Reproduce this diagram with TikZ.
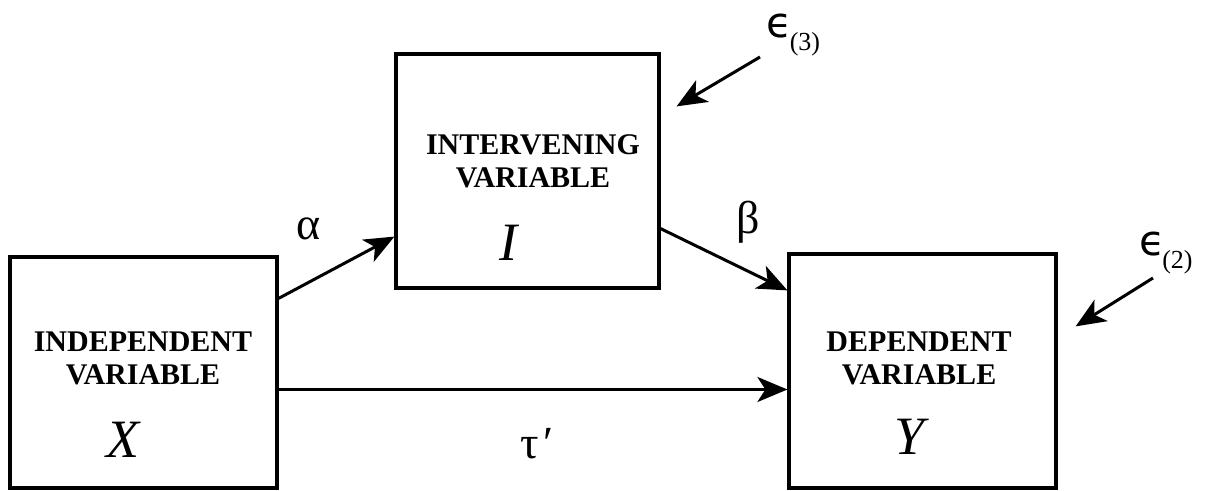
\documentclass[tikz,border=0pt]{standalone}
\usepackage{fontspec}
\setmainfont{Liberation Serif}
\newfontfamily\epsfont{DejaVu Sans}
\usetikzlibrary{arrows.meta}

\begin{document}
\begin{tikzpicture}[x=0.5pt, y=-0.5pt,
  >={Stealth[length=15pt, width=12.5pt, inset=4pt]},
  varbox/.style 2 args={draw, line width=1.6pt, minimum width=#1, minimum height=#2, inner sep=0pt},
  boxtitle/.style={font=\fontsize{15}{16.5}\selectfont\bfseries, align=center, inner sep=0pt},
  boxsym/.style={font=\fontsize{27}{30}\selectfont\itshape, inner sep=0pt},
  coef/.style={font=\fontsize{23}{25}\selectfont, inner sep=0pt},
  errlab/.style={inner sep=0pt},
  path/.style={->, line width=1.5pt}]
\useasboundingbox (0,0) rectangle (1209,491);
% boxes
\node[varbox={133.5pt}{115.5pt}] (indep) at (143.5,372.5) {};
\node[varbox={131.5pt}{117pt}] (inter) at (527.5,171) {};
\node[varbox={133.5pt}{117pt}] (dep) at (922.5,371) {};
\node[boxtitle] (indeptxt) at (143,358.5) {INDEPENDENT\\VARIABLE};
\node[boxtitle] (intertxt) at (533,161) {INTERVENING\\VARIABLE};
\node[boxtitle] (deptxt) at (919,358.5) {DEPENDENT\\VARIABLE};
\node[boxsym] (xsym) at (123,440) {X};
\node[boxsym] (isym) at (508,243) {I};
\node[boxsym] (ysym) at (910,437) {Y};
% paths
\draw[path] ([yshift=-21.5pt]indep.north east) -- ([yshift=26.5pt]inter.south west);
\draw[path] ([yshift=30.5pt]inter.south east) -- ([yshift=-19pt]dep.north west);
\coordinate (tstart) at ([yshift=-8.5pt]indep.east);
\draw[path] (tstart) -- (tstart -| dep.west);
\node[coef] (lalpha) at (308.5,229) {α};
\node[coef] (lbeta) at (748.5,222) {β};
\node[coef] (ltau) at (537,443.5) {τ\kern2pt′};
% error terms
\node[errlab] (eps3) at (793.5,35) {{\epsfont\fontsize{21}{23}\selectfont ϵ}\kern-1.5pt\raisebox{-6.5pt}{\fontsize{13}{14}\selectfont(3)}};
\node[errlab] (eps2) at (1166,253.5) {{\epsfont\fontsize{21}{23}\selectfont ϵ}\kern-1.5pt\raisebox{-6.5pt}{\fontsize{13}{14}\selectfont(2)}};
\coordinate (e3tail) at (760,57);
\coordinate (e3head) at ([xshift=8pt, yshift=-27pt]inter.north east);
\coordinate (e2tail) at (1153,278);
\coordinate (e2head) at ([xshift=9pt, yshift=-37pt]dep.north east);
\draw[path] (e3tail) -- (e3head);
\draw[path] (e2tail) -- (e2head);
\end{tikzpicture}
\end{document}
